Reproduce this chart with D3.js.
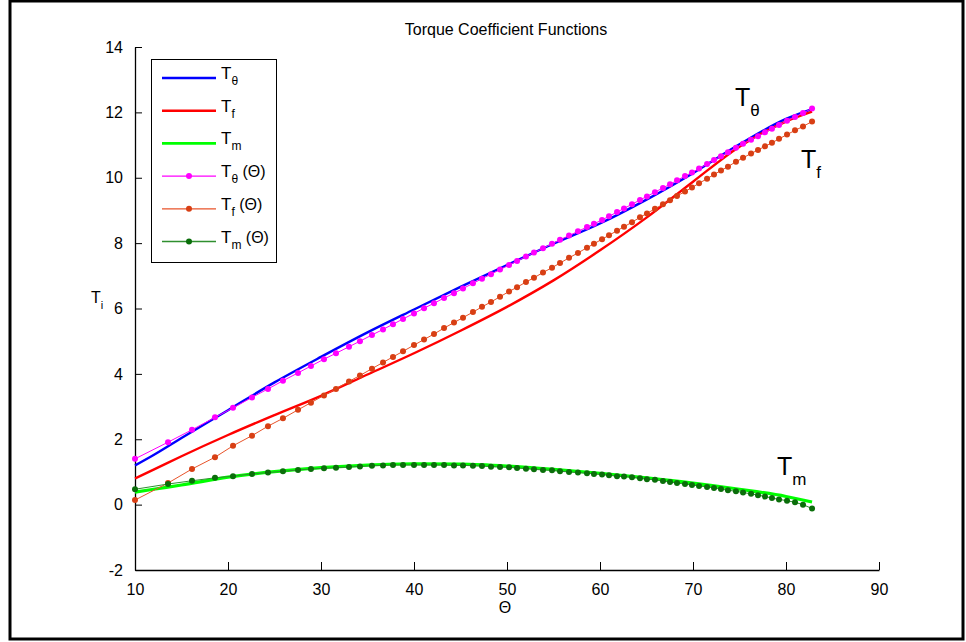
<!DOCTYPE html>
<html>
<head>
<meta charset="utf-8">
<script src="https://cdn.jsdelivr.net/npm/d3@7"></script>
<style>
  body { margin: 0; background: #fff; }
  text { font-family: "Liberation Sans", Arial, sans-serif; }
</style>
</head>
<body>
<div id="graphContainer"></div>
<script>
// smooth fitted curves
const lineTheta = [10, 12, 15, 20, 25, 30, 35, 40, 45, 50, 55, 60, 65, 70, 75, 80, 82.8];
const tThetaLine = [1.20, 1.52, 2.04, 2.89, 3.74, 4.52, 5.27, 5.97, 6.66, 7.33, 7.98, 8.60, 9.33, 10.14, 11.02, 11.80, 12.10];
const tFLine = [0.80, 1.07, 1.48, 2.13, 2.74, 3.33, 3.98, 4.63, 5.32, 6.05, 6.86, 7.78, 8.78, 9.88, 10.95, 11.72, 12.02];
const tMLine = [0.38, 0.47, 0.60, 0.84, 1.01, 1.13, 1.21, 1.25, 1.24, 1.18, 1.08, 0.96, 0.82, 0.66, 0.47, 0.25, 0.08];

// sampled values (markers)
const markTheta = [10.0, 13.55, 16.13, 18.6, 20.54, 22.58, 24.3, 25.91, 27.53, 28.92,
  30.32, 31.61, 33.01, 34.19, 35.48, 36.67, 37.74, 38.82, 40.0, 41.08,
  42.15, 43.23, 44.3, 45.27, 46.34, 47.31, 48.28, 49.25, 50.22, 51.08,
  52.04, 52.9, 53.87, 54.84, 55.7, 56.67, 57.63, 58.6, 59.35, 60.22,
  60.97, 61.83, 62.58, 63.44, 64.3, 65.05, 65.91, 66.77, 67.53, 68.28,
  69.14, 69.89, 70.65, 71.51, 72.26, 73.01, 73.76, 74.62, 75.38, 76.24,
  76.99, 77.74, 78.49, 79.25, 80.11, 80.97, 81.83, 82.8];
const tThetaMark = [1.40, 1.91, 2.29, 2.67, 2.96, 3.28, 3.54, 3.79, 4.03, 4.24,
  4.45, 4.63, 4.83, 5.00, 5.19, 5.36, 5.52, 5.68, 5.85, 6.01,
  6.16, 6.32, 6.47, 6.61, 6.77, 6.91, 7.05, 7.19, 7.33, 7.45,
  7.59, 7.71, 7.84, 7.98, 8.10, 8.23, 8.36, 8.49, 8.59, 8.71,
  8.82, 8.95, 9.06, 9.19, 9.32, 9.43, 9.56, 9.69, 9.80, 9.92,
  10.05, 10.16, 10.28, 10.42, 10.54, 10.66, 10.78, 10.92, 11.04, 11.16,
  11.27, 11.39, 11.50, 11.61, 11.74, 11.86, 11.98, 12.12];
const tFMark = [0.14, 0.66, 1.09, 1.45, 1.80, 2.11, 2.40, 2.64, 2.90, 3.12,
  3.34, 3.54, 3.77, 3.95, 4.16, 4.35, 4.52, 4.69, 4.88, 5.05,
  5.22, 5.40, 5.57, 5.72, 5.89, 6.05, 6.20, 6.36, 6.52, 6.65,
  6.81, 6.94, 7.10, 7.25, 7.39, 7.55, 7.70, 7.86, 7.98, 8.12,
  8.24, 8.38, 8.50, 8.64, 8.79, 8.91, 9.05, 9.19, 9.31, 9.44,
  9.58, 9.70, 9.83, 9.97, 10.10, 10.22, 10.34, 10.49, 10.61, 10.74,
  10.85, 10.96, 11.07, 11.19, 11.32, 11.45, 11.57, 11.72];
const tMMark = [0.47, 0.63, 0.73, 0.82, 0.87, 0.94, 0.98, 1.02, 1.06, 1.09,
  1.11, 1.13, 1.15, 1.17, 1.19, 1.20, 1.21, 1.21, 1.21, 1.21,
  1.21, 1.21, 1.20, 1.20, 1.19, 1.18, 1.16, 1.15, 1.14, 1.12,
  1.10, 1.08, 1.06, 1.05, 1.02, 1.00, 0.98, 0.96, 0.94, 0.92,
  0.90, 0.87, 0.86, 0.84, 0.81, 0.78, 0.76, 0.72, 0.69, 0.66,
  0.63, 0.60, 0.57, 0.54, 0.51, 0.48, 0.44, 0.41, 0.37, 0.33,
  0.29, 0.25, 0.20, 0.16, 0.12, 0.07, 0.00, -0.12];

const xTicks = [10, 20, 30, 40, 50, 60, 70, 80, 90];
const yTicks = [-2, 0, 2, 4, 6, 8, 10, 12, 14];

const svg = d3
  .select("#graphContainer")
  .append("svg")
  .attr("width", 966)
  .attr("height", 642);

// figure frame
svg
  .append("rect")
  .attr("x", 10)
  .attr("y", 1)
  .attr("width", 953)
  .attr("height", 638)
  .attr("fill", "none")
  .attr("stroke", "#000")
  .attr("stroke-width", 3);

const x = d3.scaleLinear().domain([10, 90]).range([135, 879]);
const y = d3.scaleLinear().domain([-2, 14]).range([570, 47]);

const xAxis = svg
  .append("g")
  .attr("transform", "translate(0,570)")
  .call(
    d3.axisBottom(x).tickValues(xTicks).tickFormat((d) => String(d))
      .tickSizeInner(-8).tickSizeOuter(0).tickPadding(14)
  );
const yAxis = svg
  .append("g")
  .attr("transform", "translate(135,0)")
  .call(
    d3.axisLeft(y).tickValues(yTicks).tickFormat((d) => String(d))
      .tickSizeInner(-7).tickSizeOuter(0).tickPadding(12)
  );

[xAxis, yAxis].forEach((g) => {
  g.select(".domain").attr("stroke", "#000").attr("stroke-width", 1.3);
  g.selectAll(".tick line").attr("stroke", "#000");
  g.selectAll(".tick text")
    .attr("fill", "#000")
    .attr("font-size", 16)
    .attr("font-family", "Liberation Sans, Arial, sans-serif");
});

svg
  .append("text")
  .attr("x", 506)
  .attr("y", 35)
  .attr("text-anchor", "middle")
  .attr("font-size", 16)
  .text("Torque Coefficient Functions");

svg
  .append("text")
  .attr("x", 505)
  .attr("y", 613)
  .attr("text-anchor", "middle")
  .attr("font-size", 16)
  .text("Θ");

const yLabel = svg.append("text").attr("x", 91).attr("y", 303).attr("font-size", 16);
yLabel.append("tspan").text("T");
yLabel.append("tspan").attr("dy", 6).attr("font-size", 11).text("i");

const line = d3
  .line()
  .x((d) => x(d[0]))
  .y((d) => y(d[1]))
  .curve(d3.curveMonotoneX);

const series = [
  { vals: tThetaLine, color: "#0000ff", width: 2.4 },
  { vals: tFLine, color: "#ff0000", width: 2.4 },
  { vals: tMLine, color: "#00ff00", width: 3.2 },
];
series.forEach((s) => {
  svg
    .append("path")
    .datum(lineTheta.map((t, i) => [t, s.vals[i]]))
    .attr("d", line)
    .attr("fill", "none")
    .attr("stroke", s.color)
    .attr("stroke-width", s.width);
});

const markLine = d3
  .line()
  .x((d) => x(d[0]))
  .y((d) => y(d[1]));

const markSeries = [
  { vals: tThetaMark, color: "#ff00ff", dot: "#ff00ff" },
  { vals: tFMark, color: "#e8532a", dot: "#d83f14" },
  { vals: tMMark, color: "#2f8f2f", dot: "#0a6e0a" },
];
markSeries.forEach((s) => {
  const pts = markTheta.map((t, i) => [t, s.vals[i]]);
  svg
    .append("path")
    .datum(pts)
    .attr("d", markLine)
    .attr("fill", "none")
    .attr("stroke", s.color)
    .attr("stroke-width", 1);
  svg
    .append("g")
    .selectAll("circle")
    .data(pts)
    .enter()
    .append("circle")
    .attr("cx", (d) => x(d[0]))
    .attr("cy", (d) => y(d[1]))
    .attr("r", 3)
    .attr("fill", s.dot);
});

// legend
const legendItems = [
  { sym: "θ", extra: "", color: "#0000ff", width: 2.6, dot: null },
  { sym: "f", extra: "", color: "#ff0000", width: 2.6, dot: null },
  { sym: "m", extra: "", color: "#00ff00", width: 2.6, dot: null },
  { sym: "θ", extra: " (Θ)", color: "#ff00ff", width: 1.3, dot: "#ff00ff" },
  { sym: "f", extra: " (Θ)", color: "#e8532a", width: 1.3, dot: "#d83f14" },
  { sym: "m", extra: " (Θ)", color: "#2f8f2f", width: 1.3, dot: "#0a6e0a" },
];
svg
  .append("rect")
  .attr("x", 151.5)
  .attr("y", 59.5)
  .attr("width", 125)
  .attr("height", 203)
  .attr("fill", "#fff")
  .attr("stroke", "#000");

const legend = svg
  .append("g")
  .selectAll("g")
  .data(legendItems)
  .enter()
  .append("g")
  .attr("transform", (d, i) => `translate(0,${78 + i * 32.7})`);
legend
  .append("line")
  .attr("x1", 162)
  .attr("x2", 216)
  .attr("stroke", (d) => d.color)
  .attr("stroke-width", (d) => d.width);
legend
  .filter((d) => d.dot)
  .append("circle")
  .attr("cx", 189)
  .attr("r", 3)
  .attr("fill", (d) => d.dot);
const lt = legend.append("text").attr("x", 221).attr("y", 1).attr("font-size", 17);
lt.append("tspan").text("T");
lt.append("tspan").attr("dy", 6).attr("font-size", 12).text((d) => d.sym);
lt.append("tspan").attr("dy", -6).attr("font-size", 16).text((d) => d.extra);

// curve annotations
const notes = [
  { t: 735, y: 106, sub: "θ" },
  { t: 801, y: 168, sub: "f" },
  { t: 777, y: 475, sub: "m" },
];
notes.forEach((n) => {
  const tx = svg.append("text").attr("x", n.t).attr("y", n.y).attr("font-size", 25);
  tx.append("tspan").text("T");
  tx.append("tspan").attr("dy", 10).attr("font-size", 17).text(n.sub);
});
</script>
</body>
</html>
